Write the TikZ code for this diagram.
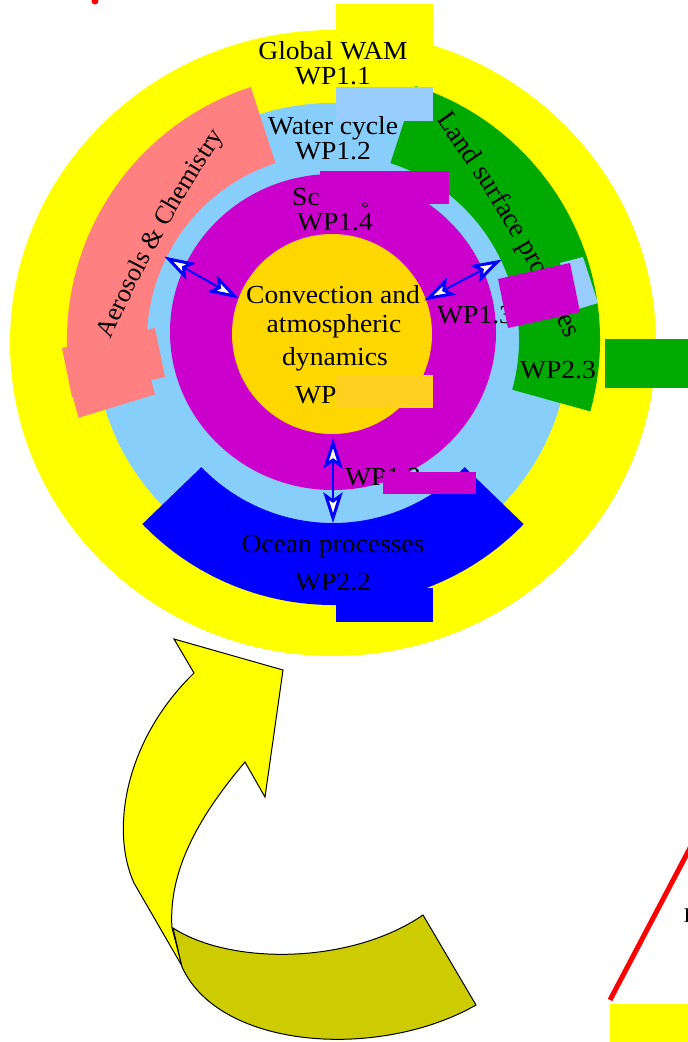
\documentclass[tikz,border=0pt]{standalone}
\usepackage{fontspec}
\setmainfont{Liberation Serif}
\usetikzlibrary{decorations.text}
\definecolor{yel}{RGB}{255,255,0}
\definecolor{lblue}{RGB}{135,206,250}
\definecolor{lbrect}{RGB}{153,204,255}
\definecolor{salmonc}{RGB}{255,128,128}
\definecolor{greenc}{RGB}{0,170,0}
\definecolor{magc}{RGB}{204,0,204}
\definecolor{goldc}{RGB}{255,215,0}
\definecolor{goldrect}{RGB}{255,208,32}
\definecolor{bluec}{RGB}{0,0,255}
\definecolor{olivec}{RGB}{204,204,0}
\definecolor{redc}{RGB}{255,0,0}
\newcommand{\stretchtxt}[1]{\scalebox{1.06}[1]{#1}}
\newcommand{\curvefont}{\fontsize{26}{26}\selectfont}
\newcommand{\landfont}{\fontsize{27.5}{27.5}\selectfont}
\tikzset{
  lbl/.style={font=\fontsize{26}{26}\selectfont, inner sep=0pt, text=black, anchor=base},
  lblw/.style={lbl, anchor=base west},
  band/.style={shift={(333,-340)}},
  shaft/.style={draw=bluec, line width=2pt},
  headtri/.style={fill=white, draw=bluec, line width=3pt, line join=miter, miter limit=10},
  wphead/.pic={\path[headtri] (2,0) -- (24,7) -- (19,0) -- (24,-7) -- cycle;},
  wpheadr/.pic={\path[headtri] (-2,0) -- (-24,7) -- (-19,0) -- (-24,-7) -- cycle;},
  blockarrow/.style={draw=black, line width=1pt, line join=miter},
}
\begin{document}
\begin{tikzpicture}[x=1pt,y=1pt]
\useasboundingbox (0,0) rectangle (688,-1042);
% stray red dot
\fill[redc] (95,-1) circle[radius=3.5];
% outer yellow disc
\fill[yel] (333,-343) ellipse[x radius=323,y radius=313];
\fill[yel] (336,-4) rectangle (433,-90);
% light blue disc
\fill[lblue] (332,-340) circle[radius=237];
% aerosols band
\fill[salmonc,band] (108:266) arc[start angle=108,end angle=197,radius=266] -- (197:186) arc[start angle=197,end angle=108,radius=186] -- cycle;
\fill[salmonc] (62,-348) -- (155,-328) -- (165,-377) -- (72,-397) -- cycle;
% land band
\fill[greenc,band] (-15.5:267) arc[start angle=-15.5,end angle=72,radius=267] -- (72:186) arc[start angle=72,end angle=-15.5,radius=186] -- cycle;
% ocean band
\fill[bluec,band] (224:265) arc[start angle=224,end angle=316,radius=265] -- (316:183) arc[start angle=316,end angle=224,radius=183] -- cycle;
% magenta and gold discs
\fill[magc] (333,-332) ellipse[x radius=163,y radius=158];
\fill[goldc] (332,-334) circle[radius=100];
% rectangles
\fill[lbrect] (336,-87) rectangle (433,-121);
\fill[bluec] (336,-588) rectangle (433,-622);
\fill[greenc] (605,-339) rectangle (688,-388);
% texts
\node[lbl] (gw) at (333,-59) {\stretchtxt{Global WAM}};
\node[lbl] (wp11) at (333,-84) {\stretchtxt{WP1.1}};
\node[lbl] (wc) at (333,-134) {\stretchtxt{Water cycle}};
\node[lbl] (wp12) at (333,-159) {\stretchtxt{WP1.2}};
\node[lblw] (sc) at (292,-205) {\stretchtxt{Sc}};
\fill[magc] (320,-171) rectangle (449,-204);
\draw[black,line width=0.8pt] (365,-205) ellipse[x radius=2.5,y radius=2];
\node[lbl] (wp14) at (335,-230) {\stretchtxt{WP1.4}};
\node[lbl] (conv) at (333,-303) {\stretchtxt{Convection and}};
\node[lbl] (atm) at (334,-332) {\stretchtxt{atmospheric}};
\node[lbl] (dyn) at (335,-365) {\stretchtxt{dynamics}};
\node[lblw] (wpc) at (295,-403) {\stretchtxt{WP}};
\fill[goldrect] (336,-375) rectangle (433,-408);
\node[lblw] (wp13r) at (437,-323) {\stretchtxt{WP1.3}};
\node[lblw] (wp13b) at (345,-485) {\stretchtxt{WP1.3}};
\fill[magc] (383,-472) rectangle (476,-494);
\node[lbl] (ocean) at (333,-552) {\stretchtxt{Ocean processes}};
\node[lbl] (wp22) at (333,-590) {\stretchtxt{WP2.2}};
\node[lbl] (wp23) at (558,-378) {\stretchtxt{WP2.3}};
% curved labels
\path[decorate, decoration={text along path, text align=left,
  text={|\landfont|Land surface processes}}]
  (436,-120) .. controls (487,-190) and (537,-270) .. (590,-390);
\path[decorate, decoration={text along path, text align=left,
  text={|\curvefont|Aerosols {\&} Chemistry}}]
  (111,-340) .. controls (145,-263) and (186,-189) .. (245,-105);
% covering boxes on the right
\fill[lbrect] (560,-263) -- (583,-257) -- (598,-303) -- (575,-310) -- cycle;
\fill[magc] (498,-279) -- (570,-263) -- (580,-312) -- (508,-328) -- cycle;
% interaction arrows
\coordinate (la) at (167,-258);
\coordinate (lb) at (236,-297);
\coordinate (ra) at (427,-299);
\coordinate (rb) at (499,-261);
\coordinate (ba) at (333,-441);
\coordinate (bb) at (333,-520);
\draw[shaft] (la) -- (lb);
\draw[shaft] (ra) -- (rb);
\draw[shaft] (ba) -- (bb);
\path (la) -- (lb) pic[pos=0, sloped] {wphead} pic[pos=1, sloped] {wpheadr};
\path (ra) -- (rb) pic[pos=0, sloped] {wphead} pic[pos=1, sloped] {wpheadr};
\path (ba) -- (bb) pic[pos=0, sloped] {wphead} pic[pos=1, sloped] {wpheadr};
% big curved arrow
\filldraw[fill=yel, blockarrow] (174,-639) -- (283,-670) -- (265,-797) -- (245,-762)
  .. controls (200,-815) and (168,-870) .. (172,-928) -- (182,-966) -- (134,-883)
  .. controls (110,-830) and (125,-740) .. (194,-673) -- cycle;
\filldraw[fill=olivec, blockarrow] (173,-928) .. controls (230,-965) and (350,-965) .. (423,-915)
  -- (476,-1005) .. controls (380,-1060) and (220,-1050) .. (182,-967) -- cycle;
% bottom right fragments
\coordinate (rl1) at (610,-1000);
\coordinate (rl2) at (700,-829);
\draw[redc, line width=5pt] (rl1) -- (rl2);
\fill[yel] (610,-1004) rectangle (688,-1042);
\node[lblw, font=\fontsize{21}{21}\selectfont] (frag) at (683.5,-922) {I};
\end{tikzpicture}
\end{document}
